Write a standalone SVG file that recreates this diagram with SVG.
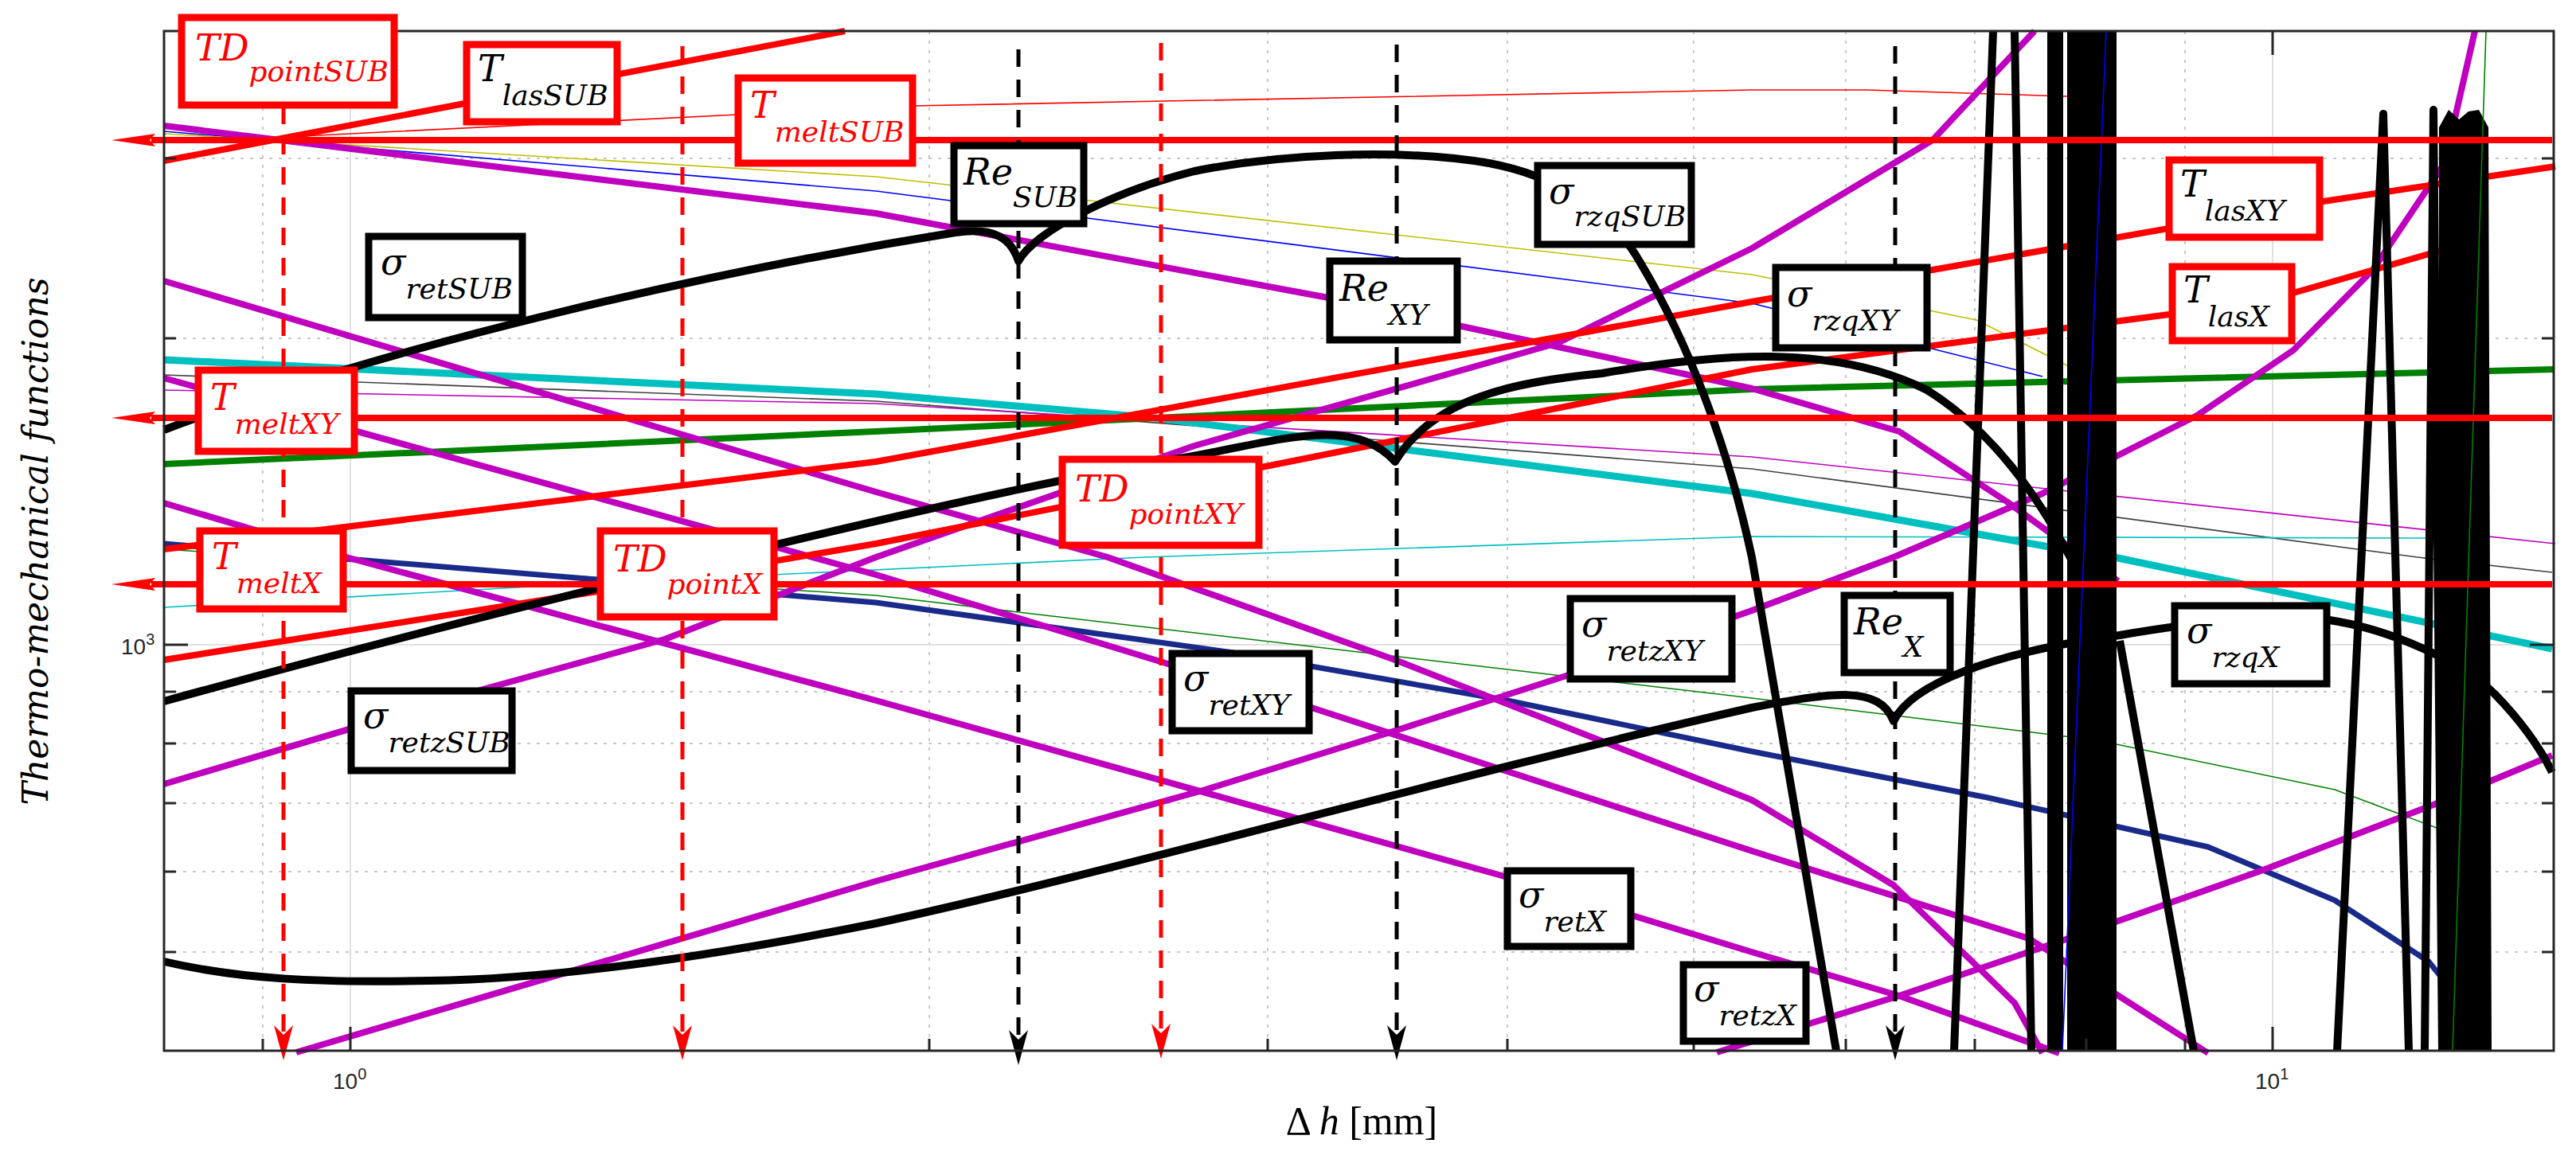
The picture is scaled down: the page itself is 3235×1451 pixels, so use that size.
<svg xmlns="http://www.w3.org/2000/svg" width="3235" height="1451" viewBox="0 0 3235 1451">
<style>
.g{stroke:#c8c8c8;stroke-width:2;stroke-dasharray:4,8;fill:none}
.gs{stroke:#e0e0e0;stroke-width:2;fill:none}
.ax{stroke:#262626;stroke-width:3;fill:none}
.c{fill:none;stroke-linejoin:round;stroke-linecap:butt}
.k{stroke:#000;stroke-width:10}
.m{stroke:#bf00bf;stroke-width:8}
.r{stroke:#f00;stroke-width:8}
.rt{stroke:#f00;stroke-width:1.6}
.bt{stroke:#00f;stroke-width:1.6}
.yt{stroke:#bfbf00;stroke-width:1.6}
.ct{stroke:#00bfbf;stroke-width:1.6}
.kt{stroke:#404040;stroke-width:1.6}
.mt{stroke:#bf00bf;stroke-width:1.6}
.gt{stroke:#008000;stroke-width:1.6}
.cy{stroke:#00bfbf;stroke-width:9}
.gr{stroke:#008000;stroke-width:8}
.nv{stroke:#1a2a8a;stroke-width:7}
.dr{stroke:#f00;stroke-width:5;stroke-dasharray:22,16}
.dk{stroke:#000;stroke-width:5;stroke-dasharray:22,16}
.bx{fill:#fff;stroke-width:9}
.bk{stroke:#000}
.br{stroke:#f00}
.t{font-family:"DejaVu Serif","Liberation Serif",serif;font-style:italic;font-size:46px}
.s{font-size:36px}
.tk{font-family:"Liberation Sans",Arial,sans-serif;font-size:28px;fill:#262626}
</style>
<rect width="3235" height="1451" fill="#fff"/>
<g id="grid">
<path class="g" d="M330 39V1320M1167 39V1320M1592 39V1320M1893 39V1320M2127 39V1320M2318 39V1320M2480 39V1320M2620 39V1320M2744 39V1320"/>
<path class="gs" d="M440 39V1320M2854 39V1320M206 810H3207"/>
<path class="g" d="M206 199H3207M206 425H3207M206 869H3207M206 934H3207M206 1009H3207M206 1095H3207M206 1196H3207"/>
</g>
<g id="curves">
<polyline class="c rt" points="379,171 926,144 1146,133 2200,113 2344,113 2596,121"/>
<polyline class="c bt" points="206,165 1100,240 2200,381 2565,473"/>
<polyline class="c yt" points="206,168 1100,222 2200,345 2482,402 2652,487"/>
<polyline class="c kt" points="206,471 1100,504 2200,589 3036,700 3205,719"/>
<polyline class="c mt" points="206,490 1100,507 2200,574 3209,683"/>
<polyline class="c ct" points="206,763 737,733 1437,700 2200,674 3050,676"/>
<polyline class="c gt" points="206,690 1100,748 2200,877 2634,930 2932,992 3060,1040"/>
<polyline class="c cy" points="206,452 1100,495 1451,525 2200,620 2579,688 2655,700 3205,815"/>
<polyline class="c gr" points="206,583 1100,542 2200,489 3207,464"/>
<polyline class="c nv" points="206,683 1100,757 1549,820 1893,880 2200,944 2496,1002 2773,1064 2932,1131 3050,1208 3126,1303"/>
<polyline class="c m" points="206,158 1100,268 1668,374 2200,488 2385,542 2520,630 2593,683 2660,730"/>
<polyline class="c m" points="206,353 1100,618 1391,700 1752,829 2200,1005 2378,1112 2447,1179 2530,1260 2565,1323"/>
<polyline class="c m" points="206,475 1100,722 1647,889 2200,1069 2548,1179 2773,1323"/>
<polyline class="c m" points="206,632 435,700 1100,880 1893,1102 2200,1196 2385,1251 2586,1323"/>
<polyline class="c m" points="372,1322 1100,1107 1514,992 1752,918 1970,848 2200,767 2378,700 2565,620 2759,522 2880,440 2980,339 3070,205 3108,39"/>
<polyline class="c m" points="206,985 610,865 835,803 1100,700 1500,560 1956,431 2200,312 2427,176 2555,39"/>
<polyline class="c m" points="2156,1322 2385,1251 2586,1183 2842,1093 3056,1011 3205,949"/>
<polyline class="c r" points="206,202 1061,39"/>
<polyline class="c r" points="206,690 1100,580 2200,379 2427,339 2911,254 3209,209"/>
<polyline class="c r" points="206,829 750,743 1100,683 1584,587 2200,464 2724,395 2880,368 3075,312"/>
<path class="c k" d="M206,540 C500,430 900,340 1200,292 C1250,285 1270,300 1279,328 C1300,290 1400,240 1500,215 C1600,195 1750,185 1870,205 C1950,220 2020,260 2060,330 C2120,430 2170,560 2200,700 L2306,1320"/>
<path class="c k" d="M206,881 C500,800 1200,620 1493,574 C1600,555 1700,520 1752,580 C1800,500 1900,480 2012,469 C2150,445 2300,430 2420,490 C2500,540 2560,620 2610,720 L2640,1320"/>
<path class="c k" d="M206,1208 C300,1230 400,1235 540,1232 C700,1230 900,1200 1100,1160 C1400,1095 1800,980 2200,889 C2300,870 2360,860 2378,906 C2400,860 2500,820 2662,798 C2780,778 2870,770 2925,779 C3000,790 3090,830 3133,872 C3170,910 3190,940 3205,970"/>
<g class="c k">
<path d="M2503,39 L2454,1320M2530,39 L2551,1320M2576,39V1320M2586,39V1320M2662,805 L2755,1320M2935,1320 L2993,143 L3025,1320M3045,1320 L3056,138 L3067,1320"/>
</g>
<rect x="2596" y="39" width="62" height="1281" fill="#000"/>
<path d="M3063,160 L3075,138 L3088,150 L3100,140 L3113,138 L3125,160 L3129,1320 L3063,1320 Z" fill="#000"/>
<polyline class="c bt" points="2645,39 2590,1320"/>
<polyline class="c gt" points="3122,39 3080,1320"/>
<path class="c r" d="M190,176H3205M190,525H3205M190,734H3205"/>
<path d="M140,176 L195,168 L188,176 L195,184Z M140,525 L195,517 L188,525 L195,533Z M140,734 L195,726 L188,734 L195,742Z" fill="#f00"/>
<path class="c dr" d="M356,134V1300M857,58V1300M1458,54V1300"/>
<path class="c dk" d="M1279,62V1305M1754,56V1300M2380,58V1300"/>
<path d="M356,1332 L344,1288 L356,1300 L368,1288Z M857,1332 L845,1288 L857,1300 L869,1288Z M1458,1330 L1446,1286 L1458,1298 L1470,1286Z" fill="#f00"/>
<path d="M1279,1338 L1267,1294 L1279,1306 L1291,1294Z M1754,1332 L1742,1288 L1754,1300 L1766,1288Z M2380,1332 L2368,1288 L2380,1300 L2392,1288Z" fill="#000"/>
</g>
<g id="axes">
<rect class="ax" x="206" y="39" width="3001" height="1281"/>
<path class="ax" d="M440,1320v-30M2854,1320v-30M330,1320v-15M1167,1320v-15M1592,1320v-15M1893,1320v-15M2127,1320v-15M2318,1320v-15M2480,1320v-15M2620,1320v-15M2744,1320v-15M440,39v30M2854,39v30M206,810h30M206,869h15M206,934h15M206,1009h15M206,1095h15M206,1196h15M206,199h15M206,425h15M3207,810h-30M3207,869h-15M3207,934h-15M3207,1009h-15M3207,1095h-15M3207,1196h-15M3207,199h-15M3207,425h-15"/>
<text class="tk" x="418" y="1368">10<tspan dy="-12" font-size="20">0</tspan></text>
<text class="tk" x="2832" y="1368">10<tspan dy="-12" font-size="20">1</tspan></text>
<text class="tk" x="152" y="822">10<tspan dy="-12" font-size="20">3</tspan></text>
<text x="1710" y="1425" text-anchor="middle" font-family="Liberation Serif,serif" font-size="50">Δ <tspan font-style="italic">h</tspan>  [mm]</text>
<text transform="translate(60,680) rotate(-90)" text-anchor="middle" font-family="DejaVu Serif,serif" font-style="italic" font-size="44">Thermo-mechanical functions</text>
</g>
<g id="n_TDpointSUB"><rect class="bx br" x="228" y="22" width="267" height="110"/><text class="t" x="245" y="76" fill="#f00">TD<tspan class="s" dy="26">pointSUB</tspan></text></g>
<g id="n_TlasSUB"><rect class="bx br" x="586" y="56" width="189" height="97"/><text class="t" x="600" y="102">T<tspan class="s" dy="30">lasSUB</tspan></text></g>
<g id="n_TmeltSUB"><rect class="bx br" x="927" y="98" width="219" height="107"/><text class="t" x="942" y="148" fill="#f00">T<tspan class="s" dy="30">meltSUB</tspan></text></g>
<g id="n_sretSUB"><rect class="bx bk" x="463" y="297" width="193" height="102"/><text class="t" x="478" y="345">σ<tspan class="s" dy="30">retSUB</tspan></text></g>
<g id="n_ReSUB"><rect class="bx bk" x="1198" y="183" width="163" height="98"/><text class="t" x="1210" y="232">Re<tspan class="s" dy="28">SUB</tspan></text></g>
<g id="n_srzqSUB"><rect class="bx bk" x="1931" y="208" width="193" height="99"/><text class="t" x="1945" y="256">σ<tspan class="s" dy="28">rzqSUB</tspan></text></g>
<g id="n_ReXY"><rect class="bx bk" x="1670" y="328" width="160" height="99"/><text class="t" x="1682" y="378">Re<tspan class="s" dy="30">XY</tspan></text></g>
<g id="n_srzqXY"><rect class="bx bk" x="2230" y="336" width="190" height="101"/><text class="t" x="2244" y="385">σ<tspan class="s" dy="30">rzqXY</tspan></text></g>
<g id="n_TlasXY"><rect class="bx br" x="2724" y="201" width="189" height="97"/><text class="t" x="2738" y="247">T<tspan class="s" dy="30">lasXY</tspan></text></g>
<g id="n_TlasX"><rect class="bx br" x="2728" y="335" width="150" height="93"/><text class="t" x="2742" y="380">T<tspan class="s" dy="30">lasX</tspan></text></g>
<g id="n_TmeltXY"><rect class="bx br" x="249" y="465" width="196" height="102"/><text class="t" x="264" y="515" fill="#f00">T<tspan class="s" dy="30">meltXY</tspan></text></g>
<g id="n_TDpointXY"><rect class="bx br" x="1334" y="577" width="247" height="108"/><text class="t" x="1350" y="630" fill="#f00">TD<tspan class="s" dy="28">pointXY</tspan></text></g>
<g id="n_TmeltX"><rect class="bx br" x="251" y="667" width="180" height="98"/><text class="t" x="266" y="715" fill="#f00">T<tspan class="s" dy="30">meltX</tspan></text></g>
<g id="n_TDpointX"><rect class="bx br" x="754" y="667" width="218" height="108"/><text class="t" x="770" y="718" fill="#f00">TD<tspan class="s" dy="28">pointX</tspan></text></g>
<g id="n_sretzSUB"><rect class="bx bk" x="441" y="868" width="202" height="100"/><text class="t" x="456" y="915">σ<tspan class="s" dy="30">retzSUB</tspan></text></g>
<g id="n_sretXY"><rect class="bx bk" x="1472" y="821" width="172" height="97"/><text class="t" x="1486" y="868">σ<tspan class="s" dy="30">retXY</tspan></text></g>
<g id="n_sretzXY"><rect class="bx bk" x="1972" y="752" width="203" height="101"/><text class="t" x="1986" y="800">σ<tspan class="s" dy="30">retzXY</tspan></text></g>
<g id="n_ReX"><rect class="bx bk" x="2316" y="748" width="133" height="97"/><text class="t" x="2328" y="797">Re<tspan class="s" dy="28">X</tspan></text></g>
<g id="n_srzqX"><rect class="bx bk" x="2731" y="761" width="191" height="98"/><text class="t" x="2746" y="808">σ<tspan class="s" dy="30">rzqX</tspan></text></g>
<g id="n_sretX"><rect class="bx bk" x="1893" y="1094" width="155" height="95"/><text class="t" x="1907" y="1140">σ<tspan class="s" dy="30">retX</tspan></text></g>
<g id="n_sretzX"><rect class="bx bk" x="2114" y="1212" width="154" height="96"/><text class="t" x="2127" y="1258">σ<tspan class="s" dy="30">retzX</tspan></text></g>
</svg>
